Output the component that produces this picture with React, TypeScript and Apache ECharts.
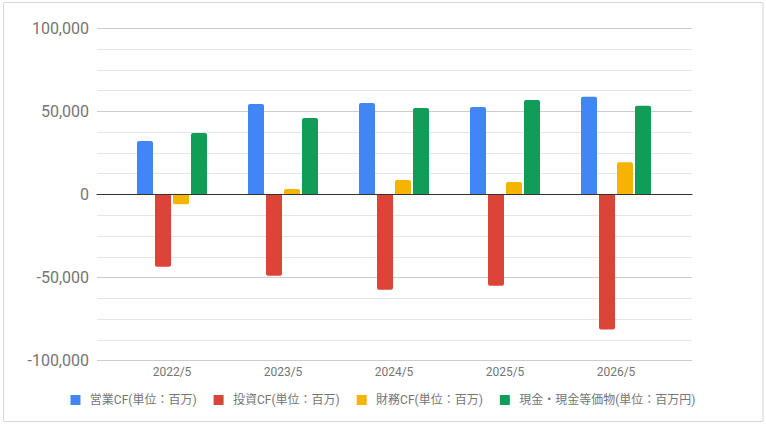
import React, { useEffect, useRef } from "react";
import * as echarts from "echarts";

const categories = ["2022/5", "2023/5", "2024/5", "2025/5", "2026/5"];
const seriesNames = [
  "営業CF(単位：百万)",
  "投資CF(単位：百万)",
  "財務CF(単位：百万)",
  "現金・現金等価物(単位：百万円)",
];
const operatingCF = [32200, 54400, 55000, 52600, 58800];
const investingCF = [-43400, -48900, -57300, -54900, -81300];
const financingCF = [-5900, 3300, 8700, 7500, 19400];
const cashEquiv = [37000, 46000, 52000, 56900, 53400];
const colors = ["#4285F4", "#DB4437", "#F4B400", "#0F9D58"];

const FONT = "Roboto, 'Noto Sans CJK JP', sans-serif";

export default function App() {
  const ref = useRef<HTMLDivElement>(null);
  useEffect(() => {
    document.body.style.margin = "0";
    if (!ref.current) return;
    const chart = echarts.init(ref.current, undefined, { renderer: "svg" });
    const allData = [operatingCF, investingCF, financingCF, cashEquiv];
    const top = 28.3;
    const bottom = 426 - 360.7;
    chart.setOption({
      animation: false,
      textStyle: { fontFamily: FONT },
      graphic: [
        {
          type: "rect",
          shape: { x: 3.5, y: 2.5, width: 759.5, height: 419 },
          style: { fill: "none", stroke: "#d6d6d6", lineWidth: 1 },
          silent: true,
          z: -1,
        },
      ],
      legend: {
        left: "center",
        top: 389,
        itemWidth: 10,
        itemHeight: 10,
        itemGap: 17,
        icon: "rect",
        textStyle: {
          fontSize: 12,
          color: "#757575",
          fontFamily: FONT,
          padding: [0, 0, 0, 4.4],
        },
        data: seriesNames,
      },
      grid: [
        { left: 97, right: 766 - 692, top, bottom },
        { left: 116.5, right: 766 - 671.5, top, bottom },
      ],
      xAxis: [
        {
          type: "value",
          gridIndex: 0,
          min: 0,
          max: 1,
          axisLabel: { show: false },
          axisTick: { show: false },
          splitLine: { show: false },
          axisLine: { show: true, onZero: true, lineStyle: { color: "#333", width: 1 } },
          z: 5,
        },
        {
          type: "category",
          gridIndex: 1,
          data: categories,
          axisLine: { show: false },
          axisTick: { show: false },
          axisLabel: { fontSize: 12, color: "#757575", margin: 5, fontFamily: FONT },
        },
      ],
      yAxis: [
        {
          type: "value",
          gridIndex: 0,
          min: -100000,
          max: 100000,
          interval: 50000,
          axisLine: { show: false },
          axisTick: { show: false },
          axisLabel: {
            fontSize: 16,
            color: "#757575",
            margin: 8,
            fontFamily: FONT,
            formatter: (v: number) => v.toLocaleString("en-US"),
          },
          splitLine: { show: true, lineStyle: { color: "#cccccc", width: 1 } },
          minorTick: { show: false, splitNumber: 4 },
          minorSplitLine: { show: true, lineStyle: { color: "#e6e6e6", width: 1 } },
        },
        {
          type: "value",
          gridIndex: 1,
          min: -100000,
          max: 100000,
          interval: 50000,
          show: false,
          splitLine: { show: false },
        },
      ],
      series: seriesNames.map((name, i) => ({
        name,
        type: "bar",
        xAxisIndex: 1,
        yAxisIndex: 1,
        barWidth: 16,
        barGap: "12.5%",
        color: colors[i],
        z: 3,
        data: allData[i].map((v) => ({
          value: v,
          itemStyle: {
            color: colors[i],
            borderRadius: v >= 0 ? [2, 2, 0, 0] : [0, 0, 2, 2],
          },
        })),
      })),
    });
    return () => chart.dispose();
  }, []);
  return <div ref={ref} style={{ width: 766, height: 426 }} />;
}
